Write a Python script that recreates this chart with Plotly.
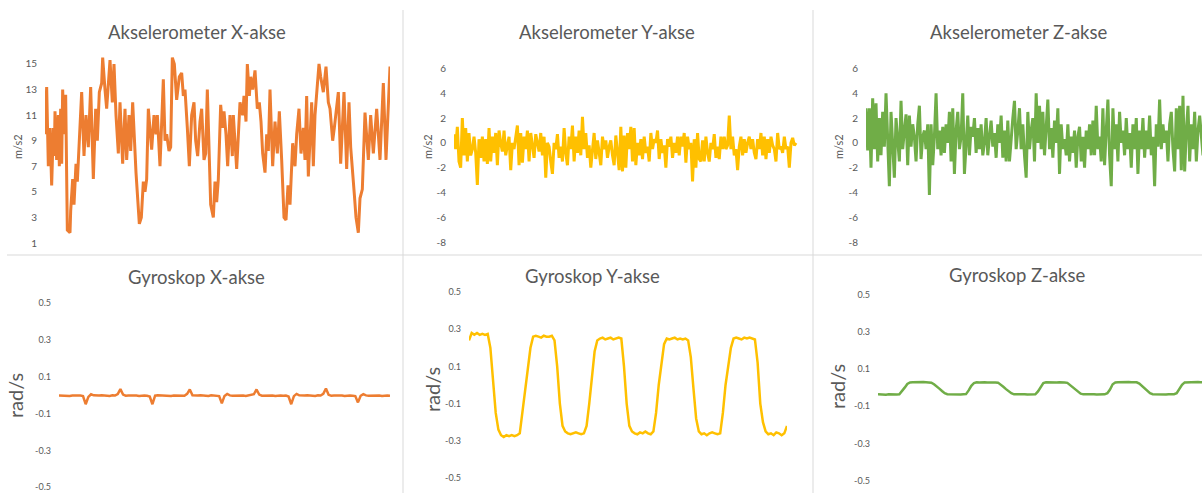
import plotly.graph_objects as go

# ---------------- data ----------------
# Accelerometer X (m/s2): sample index and value
acc_x_t = [0, 5, 10, 15, 20, 25, 28, 30, 35, 40, 43, 47, 50, 53, 57, 62, 67, 75, 77, 83,
           87, 93, 97, 102, 110, 117, 123, 130, 137, 145, 152, 157, 163, 170, 173, 180, 185, 195, 202, 207,
           213, 220, 225, 233, 240, 245, 252, 257, 263, 273, 277, 283, 289, 295, 300, 305, 310, 320, 327, 333,
           337, 345, 355, 360, 365, 372, 377, 382, 388, 395, 403, 410, 415, 420, 427, 433, 440, 447, 452, 458,
           465, 470, 477, 482, 487, 492, 497, 505, 510, 515, 520, 527, 533, 537, 543, 548, 555, 562, 565, 575,
           580, 585, 593, 597, 603, 607, 613, 617, 623, 630, 637, 643, 648, 653, 660, 665, 670, 675, 683, 690,
           697, 703, 710, 717, 723, 729, 735, 743, 750, 755, 762, 768, 775, 780, 785, 790, 800, 805, 810, 815,
           822, 827, 835, 843, 850, 855, 863, 868, 880, 887, 897, 905, 912, 917, 923, 928, 933, 940, 945, 952,
           960, 970, 977, 985, 995, 1005, 1015, 1023, 1035]
acc_x = [9.5, 13.2, 7.0, 10.0, 5.5, 10.0, 7.8, 11.3, 7.5, 11.0, 7.0, 11.5, 7.2, 13.0, 9.5, 12.6, 2.0, 1.8, 3.5, 6.0,
         4.0, 7.2, 5.8, 8.5, 12.8, 7.8, 11.0, 8.5, 13.2, 6.0, 11.5, 9.0, 12.8, 13.5, 15.5, 13.0, 11.5, 15.3, 12.0, 15.0,
         11.0, 8.0, 12.0, 7.2, 11.5, 7.5, 11.0, 8.2, 12.0, 6.5, 5.0, 2.5, 3.0, 5.8, 5.0, 6.0, 11.5, 8.3, 11.0, 9.5,
         11.0, 7.0, 13.8, 9.0, 9.5, 8.2, 8.5, 15.5, 15.0, 12.2, 14.0, 14.3, 12.5, 13.0, 10.0, 7.0, 11.0, 12.0, 9.0, 7.8,
         10.5, 11.5, 7.5, 8.0, 13.0, 7.5, 4.0, 3.0, 5.8, 4.2, 6.0, 11.8, 10.0, 11.3, 9.5, 7.0, 11.0, 7.8, 11.0, 6.8,
         10.0, 12.0, 11.0, 12.5, 10.5, 15.0, 12.5, 14.0, 13.0, 14.5, 11.5, 12.0, 10.5, 8.0, 6.5, 9.5, 8.2, 13.0, 7.0, 10.5,
         8.0, 11.3, 7.5, 3.0, 2.8, 5.5, 4.0, 8.8, 7.0, 9.5, 11.5, 8.0, 10.0, 7.5, 12.5, 6.2, 12.0, 7.0, 11.0, 12.8,
         15.0, 14.0, 12.8, 14.8, 12.0, 11.5, 9.0, 10.0, 12.8, 7.2, 12.8, 6.8, 12.0, 8.5, 6.0, 4.8, 3.0, 1.8, 4.5, 5.2,
         11.2, 7.5, 11.0, 8.0, 11.5, 7.5, 13.5, 7.5, 14.8]

# Accelerometer Y (m/s2), evenly sampled
acc_y = [0.7, -0.5, 1.3, -1.5, -2.0, 2.0, -1.0, 1.2, -1.5, 0.8, -1.0, -0.5, 0.5, -0.8, -3.4, 0.3, -1.2, 0.5, -1.5, 0.3,
         -1.7, 1.2, -1.5, 0.5, -0.8, 0.8, -1.8, 1.0, 0.0, -0.7, 1.0, -1.0, -0.2, 0.5, -2.2, 0.0, -0.5, 0.3, 1.4, -1.8,
         0.8, -1.6, 0.5, -0.5, 1.0, -1.5, 0.8, -0.2, -1.2, 0.7, 0.0, -0.7, 0.8, -1.0, 0.5, -2.8, 0.0, -0.3, -1.5, -2.5,
         0.0, -0.5, 0.7, -1.2, -0.3, -1.5, 1.2, -0.8, -1.8, 0.5, -0.5, 1.4, -1.5, 0.5, -0.8, 1.0, -1.0, 2.1, -0.5, 0.8,
         -1.2, -0.2, -2.0, -0.5, 0.8, -1.3, 0.2, -0.8, -1.8, 0.5, -0.5, 0.2, -1.2, -0.3, 0.2, -1.0, -1.8, 0.6, -0.8, -2.2,
         1.3, -2.3, 0.6, -2.0, 0.8, -0.5, 1.3, -1.5, 1.2, -1.8, 0.0, -1.0, 0.3, -1.3, 0.5, -0.8, -0.3, -1.5, 0.8, -0.5,
         0.3, 0.0, 1.0, -1.3, 0.3, -0.8, -0.2, -2.0, 0.3, -0.3, 0.5, -1.2, 0.0, -0.8, 0.5, -1.0, 0.5, -0.3, 0.8, -1.6,
         0.5, -0.5, 0.0, -3.1, 0.3, -2.0, 0.8, -1.3, -1.5, 0.2, -1.5, 0.5, -0.8, -1.5, 0.0, -0.5, 0.7, -1.2, -0.3, -1.3,
         0.5, -0.5, 0.5, -0.5, -0.2, 2.2, -0.5, 0.5, -1.0, -0.5, -2.2, -0.3, 0.5, -1.0, 0.3, -0.8, 0.0, 0.5, -0.5, 0.3,
         -0.8, -1.3, 0.3, -0.5, 0.8, -1.0, 0.5, -1.3, 0.3, -0.8, 0.5, -0.2, -0.5, -1.5, 0.8, -0.5, -0.3, -0.8, 0.5, -0.5,
         -0.3, -2.0, 0.0, 0.4, -0.2, 0.0]

# Accelerometer Z (m/s2), evenly sampled
acc_z = [2.8, -0.6, 2.8, -2.0, 3.6, -0.5, 3.2, -1.5, 2.0, -1.0, 2.5, -0.3, 4.0, 0.0, -3.5, 2.5, -0.5, -2.8, 2.0, 0.0,
         -1.5, 3.4, -0.5, 1.0, 2.3, -1.8, 2.2, -0.3, 1.5, 0.5, -1.5, 1.5, 3.0, -1.3, 0.5, 1.0, -0.5, 1.5, -4.2, 1.5,
         -1.8, 0.5, 4.0, -0.5, 1.0, -1.0, 1.3, -0.8, 1.5, 0.0, 2.5, -1.5, 2.8, -2.5, 1.0, 2.5, -0.5, 0.5, 4.0, -2.5,
         0.5, 2.2, -1.0, 1.3, 0.5, 2.0, -0.8, 1.2, -0.5, 1.5, -1.0, 0.0, 2.0, -1.0, 0.5, 1.8, -0.3, 0.8, -1.2, 1.5,
         0.0, 2.2, -1.2, 1.0, -1.5, 1.8, -1.5, 0.5, 2.0, 3.4, -0.5, 1.0, 2.8, -0.5, 1.5, -1.0, -2.8, 2.5, -0.5, 1.0,
         2.0, -1.5, 4.0, 0.0, 3.0, -0.5, 2.5, -1.0, 1.5, 3.5, -0.5, 1.2, -1.2, 1.8, 0.0, 2.8, -2.5, 1.5, -0.5, 0.3,
         -1.0, 1.5, -1.5, 0.5, -0.8, 1.0, -2.0, 0.5, 1.3, -1.5, 0.5, -2.0, 1.0, -0.5, 1.5, -1.0, 1.8, -1.0, 3.0, -0.5,
         0.5, -1.5, 2.8, -1.8, 1.0, 3.5, -1.0, -3.5, 2.8, -0.5, 1.5, -1.5, 2.5, 0.0, 1.0, -1.0, 2.0, -0.5, 0.8, -2.0,
         1.5, -0.5, 2.0, -2.5, 1.0, -0.5, 2.0, -1.2, 1.0, -0.5, 2.2, -1.0, 0.5, -3.5, 1.5, -0.3, 3.5, -0.5, 1.5, 0.0,
         1.0, -1.5, 1.5, 2.5, -0.5, -2.3, 2.8, -0.5, 3.0, -2.2, 3.8, -2.3, 1.0, 3.0, -1.5, 1.5, -0.5, 2.5, -1.5, 1.0,
         2.2, 0.5, -1.0, 0.8, 2.0, -0.5]

# Gyroscope X (rad/s), evenly sampled
gyro_x = [-0.003, -0.004, -0.002, -0.003, -0.005, -0.003, -0.002, -0.004, -0.003, -0.006, -0.05, -0.01, 0.004, -0.002, -0.004, -0.003, -0.002, -0.004, -0.003, -0.005,
          -0.002, -0.003, 0.005, 0.032, 0.002, -0.004, -0.003, -0.002, -0.004, -0.003, -0.005, -0.002, -0.003, -0.004, -0.008, -0.05, -0.004, -0.002, -0.003, -0.004,
          -0.003, -0.002, -0.005, -0.003, -0.004, -0.002, -0.003, -0.004, 0.006, 0.03, -0.001, -0.004, -0.003, -0.002, -0.004, -0.003, -0.005, -0.002, -0.003, -0.004,
          -0.006, -0.045, -0.005, 0.006, -0.002, -0.004, -0.003, -0.002, -0.004, -0.003, -0.005, -0.002, -0.003, 0.004, 0.03, 0.002, -0.004, -0.003, -0.002, -0.004,
          -0.003, -0.005, -0.002, -0.003, -0.004, -0.003, -0.008, -0.05, -0.006, 0.006, -0.002, -0.004, -0.003, -0.002, -0.004, -0.003, -0.005, -0.002, -0.003, 0.006,
          0.035, 0.001, -0.004, -0.003, -0.002, -0.004, -0.003, -0.005, -0.002, -0.003, -0.004, -0.006, -0.04, -0.004, 0.005, -0.002, -0.004, -0.003, -0.002, -0.004,
          -0.003, -0.005, -0.002, -0.003, -0.004]

# Gyroscope Y (rad/s), evenly sampled
gyro_y = [0.24, 0.28, 0.27, 0.28, 0.27, 0.275, 0.27, 0.275, 0.2, 0.0, -0.15, -0.24, -0.27, -0.28, -0.27, -0.275, -0.27, -0.275, -0.27, -0.26,
          -0.15, -0.05, 0.08, 0.2, 0.26, 0.265, 0.26, 0.255, 0.265, 0.26, 0.26, 0.265, 0.24, 0.1, -0.1, -0.22, -0.25, -0.26, -0.265, -0.26,
          -0.255, -0.26, -0.265, -0.26, -0.22, -0.1, 0.05, 0.18, 0.24, 0.25, 0.255, 0.245, 0.25, 0.255, 0.245, 0.25, 0.255, 0.25, 0.1, -0.1,
          -0.22, -0.25, -0.26, -0.265, -0.255, -0.26, -0.25, -0.26, -0.265, -0.25, -0.15, 0.0, 0.12, 0.22, 0.25, 0.245, 0.25, 0.255, 0.245, 0.25,
          0.245, 0.25, 0.24, 0.15, -0.02, -0.18, -0.25, -0.265, -0.26, -0.27, -0.26, -0.255, -0.26, -0.265, -0.26, -0.15, 0.0, 0.1, 0.2, 0.25,
          0.255, 0.25, 0.245, 0.255, 0.25, 0.255, 0.25, 0.245, 0.12, -0.1, -0.2, -0.25, -0.265, -0.26, -0.27, -0.255, -0.26, -0.27, -0.26, -0.22]

# Gyroscope Z (rad/s), evenly sampled
gyro_z = [-0.035, -0.037, -0.036, -0.038, -0.036, -0.037, -0.035, -0.037, -0.036, -0.02, 0.0, 0.02, 0.028, 0.029, 0.03, 0.028, 0.029, 0.03, 0.029, 0.028,
          0.027, 0.018, 0.008, -0.005, -0.018, -0.03, -0.035, -0.036, -0.037, -0.035, -0.036, -0.037, -0.036, -0.035, -0.015, 0.01, 0.025, 0.029, 0.028, 0.03,
          0.029, 0.028, 0.029, 0.03, 0.028, 0.027, 0.018, 0.005, -0.008, -0.02, -0.03, -0.036, -0.035, -0.037, -0.036, -0.035, -0.037, -0.036, -0.035, -0.036,
          -0.02, 0.005, 0.025, 0.029, 0.028, 0.03, 0.029, 0.028, 0.029, 0.03, 0.028, 0.026, 0.015, 0.003, -0.01, -0.022, -0.032, -0.036, -0.035, -0.037,
          -0.036, -0.035, -0.037, -0.036, -0.035, -0.036, -0.03, -0.01, 0.018, 0.028, 0.029, 0.03, 0.028, 0.029, 0.03, 0.029, 0.028, 0.029, 0.022, 0.01,
          -0.005, -0.018, -0.03, -0.035, -0.036, -0.037, -0.035, -0.036, -0.037, -0.035, -0.036, -0.035, -0.03, -0.01, 0.015, 0.028, 0.029, 0.03, 0.028, 0.029,
          0.03, 0.029, 0.028, 0.029, 0.03]

titles = ["Akselerometer X-akse", "Akselerometer Y-akse", "Akselerometer Z-akse",
          "Gyroskop X-akse", "Gyroskop Y-akse", "Gyroskop Z-akse"]
acc_x_ticks = [1, 3, 5, 7, 9, 11, 13, 15]
acc_yz_ticks = [-8, -6, -4, -2, 0, 2, 4, 6]
gyro_ticks = [-0.5, -0.3, -0.1, 0.1, 0.3, 0.5]

# ---------------- layout helpers ----------------
W, H = 1202, 493
ORANGE, YELLOW, GREEN = "#ED7D31", "#FFC000", "#70AD47"
TEXT = "#595959"
FONT = "Lato, 'Open Sans', sans-serif"


def fx(px):
    return px / W


def fy(py):
    return 1 - py / H


fig = go.Figure()

# (x values, y values, colour, width, x-domain px, y-domain px (top, bottom), x range, y range, ticks, tick size)
panels = [
    (acc_x_t, acc_x, ORANGE, 3, (45, 390), (51.2, 243), [0, 1035], [1, 16], acc_x_ticks, 10),
    (list(range(len(acc_y))), acc_y, YELLOW, 3, (454, 801), (68.3, 242.3), [0, 208], [-8.02, 6.02], acc_yz_ticks, 10),
    (list(range(len(acc_z))), acc_z, GREEN, 3, (866, 1202), (68.3, 242.3), [0, 201.4], [-8.02, 6.02], acc_yz_ticks, 10),
    (list(range(len(gyro_x))), gyro_x, ORANGE, 2.5, (59, 390), (302.3, 487.7), [0, 124], [-0.502, 0.502], gyro_ticks, 9),
    (list(range(len(gyro_y))), gyro_y, YELLOW, 2.5, (469, 787), (291.7, 478.3), [0, 119], [-0.502, 0.502], gyro_ticks, 9),
    (list(range(len(gyro_z))), gyro_z, GREEN, 2.5, (878, 1202), (294.3, 481.0), [0, 121.5], [-0.502, 0.502], gyro_ticks, 9),
]

layout_axes = {}
for i, (xs, ys, col, lw, xd, yd, xr, yr, tv, tsize) in enumerate(panels, start=1):
    sfx = "" if i == 1 else str(i)
    fig.add_trace(go.Scatter(x=xs, y=ys, mode="lines", line=dict(color=col, width=lw),
                             xaxis="x" + sfx, yaxis="y" + sfx, showlegend=False, hoverinfo="skip"))
    layout_axes["xaxis" + sfx] = dict(domain=[fx(xd[0]), fx(xd[1])], range=xr, anchor="y" + sfx,
                                      visible=False, showgrid=False, zeroline=False)
    layout_axes["yaxis" + sfx] = dict(domain=[fy(yd[1]), fy(yd[0])], range=yr, anchor="x" + sfx,
                                      tickvals=tv, ticktext=[f"{v:g}" for v in tv],
                                      tickfont=dict(family=FONT, size=tsize, color=TEXT),
                                      showgrid=False, zeroline=False, showline=False, ticks="",
                                      ticklabelstandoff=7, automargin=False)

fig.update_layout(**layout_axes)

# chart titles
title_pos = [(197, 32), (607, 32), (1018, 32), (196, 277), (592, 276), (1017, 275)]
annotations = []
for t, (px, py) in zip(titles, title_pos):
    annotations.append(dict(text=t, x=fx(px), y=fy(py), xref="paper", yref="paper", showarrow=False,
                            xanchor="center", yanchor="middle",
                            font=dict(family=FONT, size=18.5, color=TEXT)))

# axis titles
ylab_pos = [("m/s2", 17, 147, 11), ("m/s2", 427, 147, 11), ("m/s2", 838, 147, 11),
            ("rad/s", 15, 396, 20), ("rad/s", 432, 390, 20), ("rad/s", 837, 387, 20)]
for t, px, py, s in ylab_pos:
    annotations.append(dict(text=t, x=fx(px), y=fy(py), xref="paper", yref="paper", showarrow=False,
                            textangle=-90, xanchor="center", yanchor="middle",
                            font=dict(family=FONT, size=s, color=TEXT)))

# light borders between the six charts
SEP = "#D9D9D9"
shapes = [
    dict(type="line", xref="paper", yref="paper", x0=fx(403), x1=fx(403), y0=0, y1=fy(10), line=dict(color=SEP, width=1)),
    dict(type="line", xref="paper", yref="paper", x0=fx(813), x1=fx(813), y0=0, y1=fy(10), line=dict(color=SEP, width=1)),
    dict(type="line", xref="paper", yref="paper", x0=fx(7), x1=1, y0=fy(255), y1=fy(255), line=dict(color=SEP, width=1)),
]

fig.update_layout(width=W, height=H, margin=dict(l=0, r=0, t=0, b=0, pad=0, autoexpand=False),
                  paper_bgcolor="white", plot_bgcolor="white",
                  annotations=annotations, shapes=shapes, showlegend=False)

fig.write_html("out.html")
